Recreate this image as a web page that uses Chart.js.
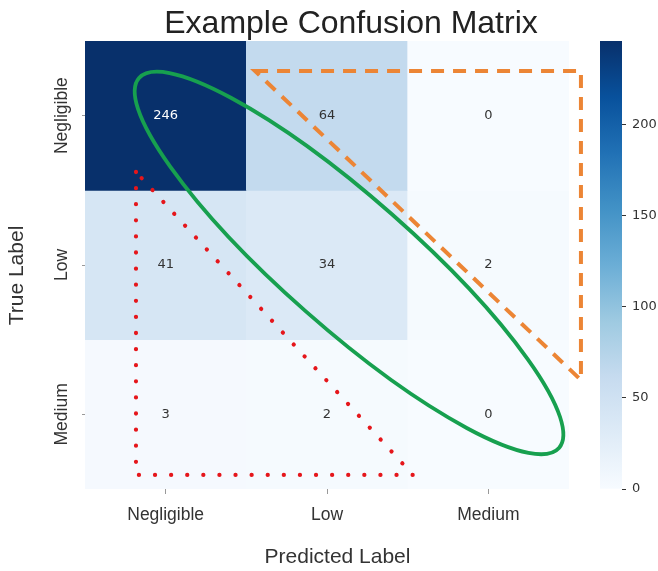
<!DOCTYPE html>
<html>
<head>
<meta charset="utf-8">
<script src="https://cdn.jsdelivr.net/npm/chart.js@4/dist/chart.umd.min.js"></script>
<style>
  html, body { margin: 0; padding: 0; background: #ffffff; overflow: hidden; }
  #wrap { position: relative; width: 658px; height: 571px; overflow: hidden; }
  #main { position: absolute; left: 0; top: 0; }
  #cbar { position: absolute; left: 590px; top: 0; }
</style>
</head>
<body>
<div id="wrap">
  <canvas id="main" width="702" height="571"></canvas>
  <canvas id="cbar" width="68" height="571"></canvas>
</div>
<script>
// ---------------- data ----------------
const predictedLabels = ['Negligible', 'Low', 'Medium'];
const trueLabels = ['Negligible', 'Low', 'Medium'];
const countsTrueNegligible = [246, 64, 0];
const countsTrueLow = [41, 34, 2];
const countsTrueMedium = [3, 2, 0];
const colorbarTicks = [0, 50, 100, 150, 200];
const colorbarMax = 246;

const rows = [countsTrueNegligible, countsTrueLow, countsTrueMedium];

// ---------------- styles ----------------
const BLUES = [[247,251,255],[222,235,247],[198,219,239],[158,202,225],[107,174,214],[66,146,198],[33,113,181],[8,81,156],[8,48,107]];
function blues(t) {
  t = Math.max(0, Math.min(1, t));
  const s = t * 8, i = Math.min(7, Math.floor(s)), f = s - i;
  const a = BLUES[i], b = BLUES[i + 1];
  return 'rgb(' + a.map((x, k) => Math.round(x + (b[k] - x) * f)).join(',') + ')';
}
const SANS = '"Liberation Sans", Arial, Helvetica, sans-serif';
const TEXT = '#333333';
Chart.defaults.font.family = SANS;

// annotation shapes, in axis units (x: column index, y: row position 0=top .. 3=bottom)
const ELLIPSE = { tipA: [-0.165, 0.248], tipB: [2.438, 2.725], minorRatio: 0.232, color: '#17a04f', width: 3.8 };
const ORANGE_TRI = { pts: [[0.554, 0.201], [2.574, 0.201], [2.574, 2.27]], color: '#ec8535', width: 4, dash: [13, 9] };
const RED_TRI = { pts: [[-0.184, 0.877], [-0.184, 2.906], [1.533, 2.906]], color: '#e5161b', width: 4.2, dash: [0.1, 16] };

const overlay = {
  id: 'overlay',
  afterDatasetsDraw(chart) {
    const { ctx, scales: { x, y } } = chart;
    const P = (p) => [x.getPixelForValue(p[0]), y.getPixelForValue(p[1])];
    ctx.save();
    // cell values
    ctx.font = '13px "DejaVu Sans", sans-serif';
    ctx.textAlign = 'center';
    ctx.textBaseline = 'middle';
    rows.forEach((vals, r) => vals.forEach((v, c) => {
      ctx.fillStyle = v / colorbarMax > 0.6 ? '#ffffff' : '#333333';
      ctx.fillText(String(v), x.getPixelForValue(c), y.getPixelForValue(r + 0.5));
    }));
    const poly = (spec) => {
      ctx.beginPath();
      spec.pts.forEach((p, i) => { const q = P(p); i ? ctx.lineTo(q[0], q[1]) : ctx.moveTo(q[0], q[1]); });
      ctx.closePath();
      ctx.strokeStyle = spec.color;
      ctx.lineWidth = spec.width;
      ctx.setLineDash(spec.dash);
      ctx.stroke();
    };
    ctx.lineCap = 'butt';
    poly(ORANGE_TRI);
    ctx.lineCap = 'round';
    poly(RED_TRI);
    // green ellipse
    const A = P(ELLIPSE.tipA), B = P(ELLIPSE.tipB);
    const cx = (A[0] + B[0]) / 2, cy = (A[1] + B[1]) / 2;
    const a = Math.hypot(B[0] - A[0], B[1] - A[1]) / 2;
    const ang = Math.atan2(B[1] - A[1], B[0] - A[0]);
    ctx.setLineDash([]);
    ctx.beginPath();
    ctx.ellipse(cx, cy, a, a * ELLIPSE.minorRatio, ang, 0, Math.PI * 2);
    ctx.strokeStyle = ELLIPSE.color;
    ctx.lineWidth = ELLIPSE.width;
    ctx.stroke();
    ctx.restore();
  }
};

const datasets = rows.map((vals, r) => ({
  label: trueLabels[r],
  data: vals.map(() => [r, r + 1]),
  backgroundColor: vals.map(v => blues(v / colorbarMax)),
  borderWidth: 0,
  barPercentage: 1,
  categoryPercentage: 1,
  grouped: false
}));

new Chart(document.getElementById('main'), {
  type: 'bar',
  data: { labels: predictedLabels, datasets },
  options: {
    responsive: false,
    animation: false,
    devicePixelRatio: 1,
    layout: { padding: 0 },
    plugins: {
      legend: { display: false },
      tooltip: { enabled: false },
      title: {
        display: true,
        text: 'Example Confusion Matrix',
        color: '#222222',
        font: { family: SANS, size: 32, weight: 'normal', lineHeight: 1.0 },
        padding: { top: 7.7, bottom: 1.3 }
      }
    },
    scales: {
      x: {
        type: 'category',
        offset: true,
        grid: { offset: false, drawOnChartArea: false, drawTicks: true, tickLength: 5, tickColor: '#999999' },
        border: { display: false },
        ticks: { font: { size: 17.5 }, color: TEXT, padding: 11, maxRotation: 0 },
        title: { display: true, text: '\u2003Predicted Label', color: TEXT, font: { size: 21 }, padding: { top: 0, bottom: 1.4 } },
        afterFit(s) { s.height = 82; }
      },
      y: {
        type: 'linear',
        reverse: true,
        min: 0,
        max: 3,
        afterBuildTicks(s) { s.ticks = trueLabels.map((_, i) => ({ value: i + 0.5 })); },
        grid: { drawOnChartArea: false, drawTicks: true, tickLength: 3, tickColor: '#999999' },
        border: { display: false },
        ticks: {
          minRotation: 90, maxRotation: 90, crossAlign: 'center', padding: -19,
          font: { size: 17.5 }, color: TEXT,
          callback: (v) => trueLabels[Math.floor(v)]
        },
        title: { display: true, text: 'True Label\u2003', color: TEXT, font: { size: 21 }, padding: { top: 4.4, bottom: 0 } },
        afterFit(s) { s.width = 85; }
      },
      // empty right-hand spacer (room for the colorbar), so the title centres over the whole figure
      ySpace: {
        type: 'linear',
        position: 'right',
        display: true,
        grid: { display: false },
        border: { display: false },
        ticks: { display: false },
        afterFit(s) { s.width = 133; }
      }
    }
  },
  plugins: [overlay]
});

new Chart(document.getElementById('cbar'), {
  type: 'bar',
  data: {
    labels: ['colorbar'],
    datasets: [{
      data: [[0, colorbarMax]],
      backgroundColor: (c) => {
        const ch = c.chart;
        if (!ch.chartArea) return blues(0.5);
        const ys = ch.scales.y;
        const g = ch.ctx.createLinearGradient(0, ys.getPixelForValue(0), 0, ys.getPixelForValue(colorbarMax));
        BLUES.forEach((s, i) => g.addColorStop(i / 8, 'rgb(' + s.join(',') + ')'));
        return g;
      },
      borderWidth: 0,
      barPercentage: 1,
      categoryPercentage: 1
    }]
  },
  options: {
    responsive: false,
    animation: false,
    devicePixelRatio: 1,
    layout: { padding: { left: 10, top: 41, bottom: 82, right: 0 } },
    plugins: { legend: { display: false }, tooltip: { enabled: false } },
    scales: {
      x: { display: false },
      y: {
        position: 'right',
        min: 0,
        max: colorbarMax,
        afterBuildTicks(s) { s.ticks = colorbarTicks.map(v => ({ value: v })); },
        grid: { drawOnChartArea: false, drawTicks: true, tickLength: 4, tickColor: '#333333' },
        border: { display: false },
        ticks: { font: { family: '"DejaVu Sans", sans-serif', size: 13 }, color: TEXT, padding: 6 },
        afterFit(s) { s.width = 36; }
      }
    }
  }
});
</script>
</body>
</html>
